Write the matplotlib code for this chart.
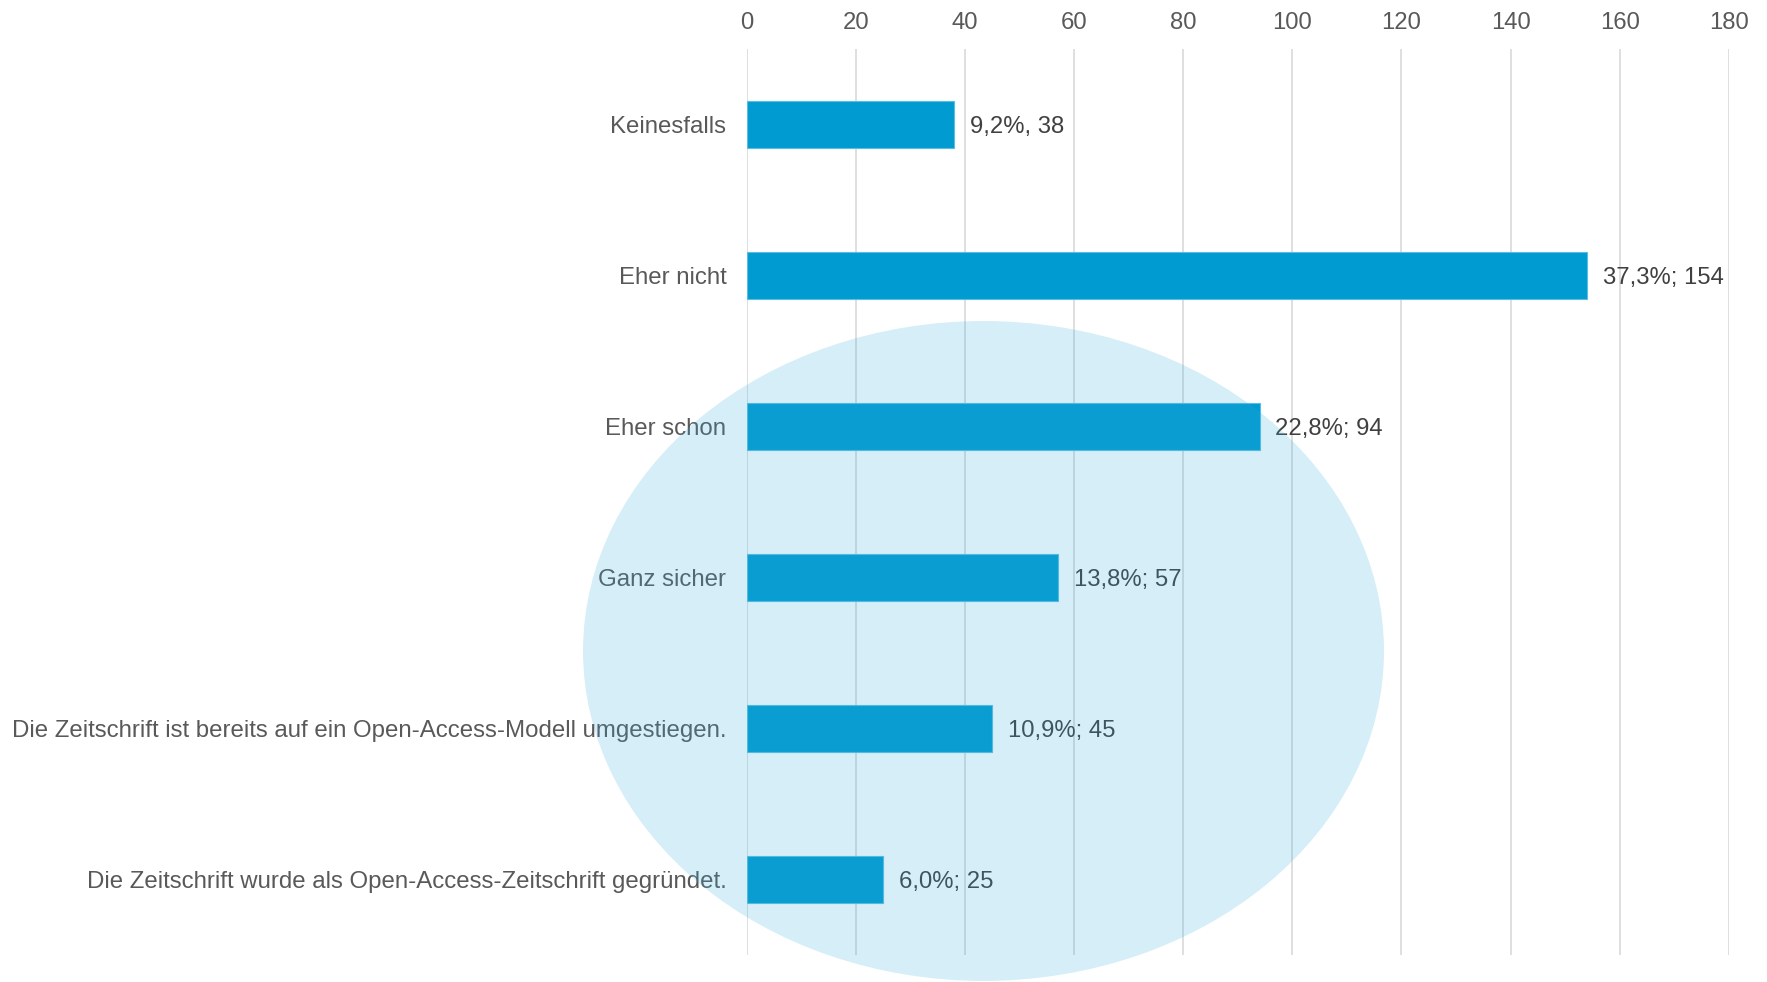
import matplotlib
matplotlib.use('Agg')
import matplotlib.pyplot as plt
from matplotlib.patches import Ellipse

plt.rcParams['font.family'] = ['Liberation Sans', 'DejaVu Sans']

# Daten
kategorien = [
    'Keinesfalls',
    'Eher nicht',
    'Eher schon',
    'Ganz sicher',
    'Die Zeitschrift ist bereits auf ein Open-Access-Modell umgestiegen.',
    'Die Zeitschrift wurde als Open-Access-Zeitschrift gegründet.',
]
anzahl = [38, 154, 94, 57, 45, 25]
beschriftung = ['9,2%, 38', '37,3%; 154', '22,8%; 94', '13,8%; 57', '10,9%; 45', '6,0%; 25']
x_ticks = [0, 20, 40, 60, 80, 100, 120, 140, 160, 180]

fig = plt.figure(figsize=(17.67, 9.82), dpi=100)
ax = fig.add_axes([0.4228, 0.0275, 0.5555, 0.9226])

pos = list(range(len(kategorien)))
ax.barh(pos, anzahl, height=0.31, color='#009BD0', edgecolor='#5BBDE3', linewidth=0.8, zorder=3)

for p, v, txt in zip(pos, anzahl, beschriftung):
    ax.text(v + 2.9, p, txt, va='center_baseline', ha='left', fontsize=17.2, color='#404040')

ax.set_xlim(0, 180)
ax.set_ylim(5.5, -0.5)
ax.set_xticks(x_ticks)
ax.set_yticks(pos)
ax.set_yticklabels(kategorien, va='center_baseline')
ax.xaxis.tick_top()
ax.tick_params(axis='x', length=0, pad=11, labelsize=17.2, labelcolor='#595959')
ax.tick_params(axis='y', length=0, pad=15, labelsize=17.3, labelcolor='#595959')
ax.grid(axis='x', color='#d9d9d9', linewidth=1.2, zorder=0)
ax.set_axisbelow(True)
for s in ax.spines.values():
    s.set_visible(False)

# heller Kreis im Hintergrund
kreis = Ellipse((0.5566, 0.3371), 0.4533, 0.672, transform=fig.transFigure,
                facecolor=(50/255, 170/255, 215/255), alpha=0.2, edgecolor='none', zorder=5)
fig.add_artist(kreis)

plt.savefig('out.png', dpi=100)
plt.close()
